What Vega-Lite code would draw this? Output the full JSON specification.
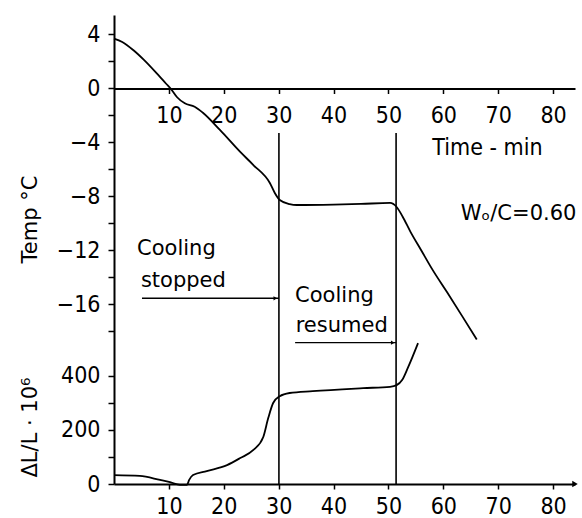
{
  "$schema": "https://vega.github.io/schema/vega-lite/v6.json",
  "autosize": "none",
  "width": 461,
  "height": 469,
  "padding": {"left": 114, "top": 15, "right": 7, "bottom": 34},
  "background": "white",
  "config": {
    "view": {"stroke": null},
    "axis": {
      "domainColor": "black",
      "tickColor": "black",
      "labelColor": "black",
      "titleColor": "black",
      "labelFont": "Liberation Sans Narrow, DejaVu Sans Condensed",
      "labelFontSize": 23,
      "titleFont": "DejaVu Sans",
      "titleFontSize": 21,
      "titleFontWeight": "normal",
      "grid": false,
      "domainWidth": 2,
      "tickWidth": 1.5
    },
    "text": {"font": "DejaVu Sans", "fontSize": 21, "color": "black"}
  },
  "datasets": {
    "temp": [
      {"t": 0, "T": 3.7}, {"t": 1.5, "T": 3.45}, {"t": 3.5, "T": 2.85}, {"t": 5.5, "T": 2.1},
      {"t": 7.5, "T": 1.25}, {"t": 9.5, "T": 0.35}, {"t": 10.5, "T": -0.1}, {"t": 11.5, "T": -0.65},
      {"t": 12.9, "T": -1.1}, {"t": 14.7, "T": -1.35}, {"t": 16.2, "T": -1.8}, {"t": 19.3, "T": -3.07},
      {"t": 23, "T": -4.7}, {"t": 25.4, "T": -5.67}, {"t": 28.4, "T": -7.0}, {"t": 29.3, "T": -7.74},
      {"t": 30.2, "T": -8.26}, {"t": 32, "T": -8.56}, {"t": 33.3, "T": -8.63}, {"t": 40, "T": -8.6},
      {"t": 45, "T": -8.55}, {"t": 50.3, "T": -8.48}, {"t": 51.5, "T": -8.78}, {"t": 52.6, "T": -9.5},
      {"t": 54, "T": -10.6}, {"t": 56, "T": -12.0}, {"t": 58, "T": -13.4}, {"t": 60.7, "T": -15.1},
      {"t": 63.5, "T": -16.9}, {"t": 66.1, "T": -18.6}
    ],
    "strain": [
      {"t": 0, "dL": 33}, {"t": 4.7, "dL": 30}, {"t": 8.4, "dL": 15}, {"t": 10.2, "dL": 7},
      {"t": 12, "dL": -3}, {"t": 13.3, "dL": -3}, {"t": 13.7, "dL": 15}, {"t": 14.4, "dL": 33},
      {"t": 16.9, "dL": 48}, {"t": 20.6, "dL": 70}, {"t": 23, "dL": 96}, {"t": 25.4, "dL": 126},
      {"t": 27.2, "dL": 174}, {"t": 28.1, "dL": 244}, {"t": 29, "dL": 300}, {"t": 30.2, "dL": 325},
      {"t": 32, "dL": 337}, {"t": 36.2, "dL": 344}, {"t": 45.4, "dL": 355}, {"t": 50.3, "dL": 360},
      {"t": 51.5, "dL": 366}, {"t": 52.5, "dL": 385}, {"t": 53.6, "dL": 433}, {"t": 55.4, "dL": 522}
    ],
    "vlines": [
      {"t": 30.05, "T": -3.3, "T2": -29.3},
      {"t": 51.4, "T": -3.3, "T2": -29.3}
    ],
    "arrows": [
      {"t": 5.1, "t2": 30.05, "T": -15.54},
      {"t": 33.0, "t2": 51.4, "T": -18.83}
    ],
    "heads": [
      {"t": 29.4, "T": -15.54},
      {"t": 50.8, "T": -18.83}
    ],
    "labels": [
      {"t": 4.2, "T": -12.33, "label": "Cooling"},
      {"t": 4.9, "T": -14.7, "label": "stopped"},
      {"t": 33.0, "T": -15.81, "label": "Cooling"},
      {"t": 33.1, "T": -18.04, "label": "resumed"},
      {"t": 63.2, "T": -9.74, "label": "Wₒ/C=0.60"}
    ],
    "axistitle": [
      {"t": 58.0, "T": -4.93, "label": "Time - min"}
    ],
    "axisend": [
      {"t": 84, "dL": 0}
    ]
  },
  "resolve": {"scale": {"x": "independent", "y": "independent"}, "axis": {"x": "independent", "y": "independent"}},
  "layer": [
    {
      "layer": [
        {
          "data": {"name": "temp"},
          "mark": {"type": "line", "color": "black", "strokeWidth": 1.8, "interpolate": "monotone"},
          "encoding": {
            "x": {"field": "t", "type": "quantitative",
              "scale": {"domain": [0, 84], "nice": false, "zero": false},
              "axis": {"orient": "bottom", "offset": -395.5, "values": [10, 20, 30, 40, 50, 60, 70, 80],
                "tickSize": 5, "labelPadding": 11, "title": null, "labelFlush": false}},
            "y": {"field": "T", "type": "quantitative",
              "scale": {"domain": [-29.3, 5.444], "nice": false, "zero": false},
              "axis": {"orient": "left", "values": [4, 2, 0, -2, -4, -6, -8, -10, -12, -14, -16, -18],
                "labelExpr": "datum.value % 4 === 0 ? datum.label : ''",
                "tickSize": 6, "labelPadding": 8, "title": "Temp  °C",
                "titleX": -84, "titleY": 204, "titleAngle": 270, "titleAlign": "center", "titleBaseline": "middle"}}
          }
        },
        {
          "data": {"name": "vlines"},
          "mark": {"type": "rule", "color": "black", "strokeWidth": 1.6},
          "encoding": {
            "x": {"field": "t", "type": "quantitative"},
            "y": {"field": "T", "type": "quantitative"},
            "y2": {"field": "T2"}
          }
        },
        {
          "data": {"name": "arrows"},
          "mark": {"type": "rule", "color": "black", "strokeWidth": 1.4},
          "encoding": {
            "x": {"field": "t", "type": "quantitative"},
            "x2": {"field": "t2"},
            "y": {"field": "T", "type": "quantitative"}
          }
        },
        {
          "data": {"name": "heads"},
          "mark": {"type": "point", "shape": "triangle-right", "filled": true, "color": "black", "size": 18, "opacity": 1},
          "encoding": {
            "x": {"field": "t", "type": "quantitative"},
            "y": {"field": "T", "type": "quantitative"}
          }
        },
        {
          "data": {"name": "labels"},
          "mark": {"type": "text", "align": "left", "baseline": "alphabetic"},
          "encoding": {
            "x": {"field": "t", "type": "quantitative"},
            "y": {"field": "T", "type": "quantitative"},
            "text": {"field": "label"}
          }
        },
        {
          "data": {"name": "axistitle"},
          "mark": {"type": "text", "align": "left", "baseline": "alphabetic", "font": "DejaVu Sans Condensed", "fontSize": 23},
          "encoding": {
            "x": {"field": "t", "type": "quantitative"},
            "y": {"field": "T", "type": "quantitative"},
            "text": {"field": "label"}
          }
        }
      ]
    },
    {
      "layer": [
        {
          "data": {"name": "strain"},
          "mark": {"type": "line", "color": "black", "strokeWidth": 1.8, "interpolate": "monotone"},
          "encoding": {
            "x": {"field": "t", "type": "quantitative",
              "scale": {"domain": [0, 84], "nice": false, "zero": false},
              "axis": {"orient": "bottom", "values": [10, 20, 30, 40, 50, 60, 70, 80],
                "tickSize": 5, "labelPadding": 6, "title": null, "labelFlush": false}},
            "y": {"field": "dL", "type": "quantitative",
              "scale": {"domain": [0, 1737], "nice": false, "zero": false},
              "axis": {"orient": "left", "values": [0, 100, 200, 300, 400], "domain": false,
                "labelExpr": "datum.value % 200 === 0 ? datum.label : ''",
                "tickSize": 6, "labelPadding": 8, "title": "ΔL/L · 10⁶",
                "titleX": -84, "titleY": 412, "titleAngle": 270, "titleAlign": "center", "titleBaseline": "middle"}}
          }
        },
        {
          "data": {"name": "axisend"},
          "mark": {"type": "point", "shape": "triangle-right", "filled": true, "color": "black", "size": 40, "opacity": 1},
          "encoding": {
            "x": {"field": "t", "type": "quantitative"},
            "y": {"field": "dL", "type": "quantitative"}
          }
        }
      ]
    }
  ]
}
